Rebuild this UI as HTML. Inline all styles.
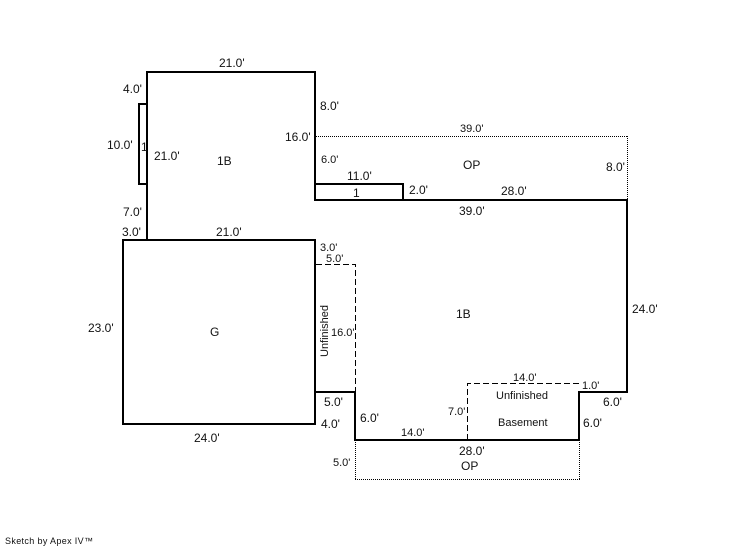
<!DOCTYPE html>
<html>
<head>
<meta charset="utf-8">
<style>
html,body{margin:0;padding:0;background:#fff;width:746px;height:547px;overflow:hidden}
svg{display:block}
text{font-family:"Liberation Sans",Arial,sans-serif;font-size:12px;fill:#111}
.s{font-size:11px}
.k{stroke:#000;stroke-width:2;fill:none;shape-rendering:crispEdges}
.d{stroke:#000;stroke-width:1;fill:none;stroke-dasharray:1 1;shape-rendering:crispEdges}
.h{stroke:#000;stroke-width:1;fill:none;stroke-dasharray:6 3;shape-rendering:crispEdges}
</style>
</head>
<body>
<svg width="746" height="547" viewBox="0 0 746 547" xmlns="http://www.w3.org/2000/svg">
<rect width="746" height="547" fill="#fff"/>
<path class="d" d="M316 136.5H628"/>
<path class="d" d="M627.5 136V200"/>
<path class="d" d="M355.5 440V480"/>
<path class="d" d="M355 479.5H580"/>
<path class="d" d="M579.5 440V480"/>
<path class="h" d="M316 264.5H355.5V392"/>
<path class="h" d="M467.5 440V383.5H579"/>
<path class="k" d="M147 240V72H315V200H627V392H579V440H355V392H315"/>
<path class="k" d="M147 104H139V184H147"/>
<path class="k" d="M315 184H403V200"/>
<path class="k" d="M123 240H315V424H123Z"/>
<text x="219" y="67">21.0'</text>
<text x="123" y="93">4.0'</text>
<text x="320" y="110">8.0'</text>
<text x="285" y="141">16.0'</text>
<text x="107" y="149">10.0'</text>
<text x="141" y="151">1</text>
<text x="154" y="160">21.0'</text>
<text x="217" y="165">1B</text>
<text x="321" y="163" class="s">6.0'</text>
<text x="123" y="216">7.0'</text>
<text x="122" y="236">3.0'</text>
<text x="216" y="236">21.0'</text>
<text x="320" y="251" class="s">3.0'</text>
<text x="460" y="132" class="s">39.0'</text>
<text x="463" y="169">OP</text>
<text x="606" y="171">8.0'</text>
<text x="347" y="180">11.0'</text>
<text x="353" y="197">1</text>
<text x="409" y="194">2.0'</text>
<text x="501" y="195">28.0'</text>
<text x="459" y="215">39.0'</text>
<text x="326" y="262" class="s">5.0'</text>
<text transform="translate(328 357) rotate(-90)" class="s">Unfinished</text>
<text x="331" y="336" class="s">16.0'</text>
<text x="324" y="406">5.0'</text>
<text x="321" y="428">4.0'</text>
<text x="360" y="422">6.0'</text>
<text x="333" y="466" class="s">5.0'</text>
<text x="210" y="336">G</text>
<text x="88" y="332">23.0'</text>
<text x="194" y="442">24.0'</text>
<text x="456" y="318">1B</text>
<text x="632" y="313">24.0'</text>
<text x="513" y="381" class="s">14.0'</text>
<text x="496" y="399" class="s">Unfinished</text>
<text x="498" y="426" class="s">Basement</text>
<text x="448" y="415" class="s">7.0'</text>
<text x="582" y="389" class="s">1.0'</text>
<text x="603" y="406">6.0'</text>
<text x="583" y="427">6.0'</text>
<text x="401" y="436" class="s">14.0'</text>
<text x="459" y="455">28.0'</text>
<text x="461" y="470">OP</text>
<text x="5" y="544" style="font-size:9px" textLength="88" lengthAdjust="spacing">Sketch by Apex IV™</text>
</svg>
</body>
</html>
